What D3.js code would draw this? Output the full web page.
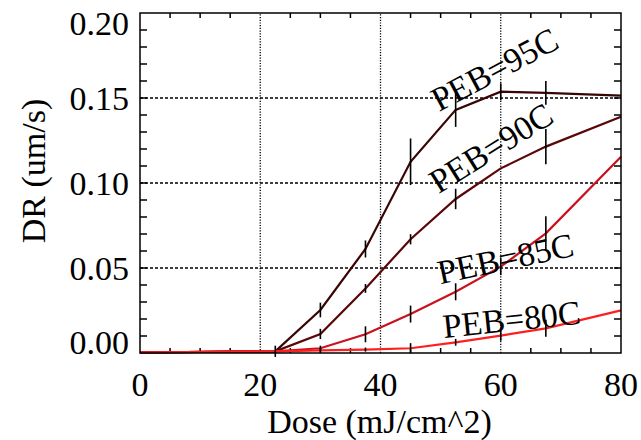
<!DOCTYPE html>
<html>
<head>
<meta charset="utf-8">
<script src="https://cdn.jsdelivr.net/npm/d3@7"></script>
<style>
  body { margin: 0; background: #fff; }
  svg text { font-family: "Liberation Serif", "Times New Roman", serif; fill: #000; }
</style>
</head>
<body>
<svg width="641" height="440"></svg>
<script>
// dose points (mJ/cm^2) and dissolution rate (um/s) per PEB temperature
var doses = [0, 22.5, 30, 37.5, 45, 52.5, 60, 67.5, 80]
var dr95 = [0.0003, 0.001, 0.0253, 0.0612, 0.1125, 0.143, 0.1537, 0.153, 0.1514]
var dr90 = [0.0003, 0.001, 0.0112, 0.038, 0.0669, 0.0906, 0.1086, 0.1214, 0.139]
var dr85 = [0.0003, 0.001, 0.0028, 0.011, 0.0229, 0.036, 0.0508, 0.0704, 0.1155]
var dr80 = [0.0003, 0.001, 0.0015, 0.002, 0.0028, 0.0063, 0.0102, 0.0145, 0.0251]
// error bar half heights (null = no bar)
var err95 = [null, 0.0033, 0.0043, 0.005, 0.0137, 0.010, 0.005, 0.007, null]
var err90 = [null, null, 0.003, 0.0026, 0.003, 0.006, null, 0.0103, null]
var err85 = [null, null, 0.0015, 0.0047, 0.005, 0.005, 0.005, 0.01, null]
var err80 = [null, null, 0.0013, 0.0012, 0.003, 0.002, 0.003, 0.005, null]
var seriesNames = ["PEB=95C", "PEB=90C", "PEB=85C", "PEB=80C"]
var xTicks = [0, 20, 40, 60, 80]
var yTicks = [0, 0.05, 0.10, 0.15, 0.20]

var colors = ["#380404", "#5a0707", "#c8121e", "#ff1e1e"]
// label anchor (data coords) and rotation
var labelPos = [[59.0, 0.1668, -28], [58.4, 0.1206, -32], [60.8, 0.0555, -12], [61.8, 0.0198, -6]]

var svg = d3.select("svg")
var x = d3.scaleLinear().domain([0, 80]).range([140, 621])
var y = d3.scaleLinear().domain([0, 0.2]).range([353, 13])
var fs = 34

// grid lines
svg.append("g").selectAll("line").data([20, 40, 60]).enter().append("line")
  .attr("x1", d => x(d)).attr("x2", d => x(d)).attr("y1", y(0)).attr("y2", y(0.2))
  .attr("stroke", "#000").attr("stroke-width", 1.3).attr("stroke-dasharray", "1.2,1.5")
svg.append("g").selectAll("line").data([0.05, 0.10, 0.15]).enter().append("line")
  .attr("y1", d => y(d)).attr("y2", d => y(d)).attr("x1", x(0)).attr("x2", x(80))
  .attr("stroke", "#000").attr("stroke-width", 1.3).attr("stroke-dasharray", "3,2")

// minor ticks
var xMinor = d3.range(5, 80, 5).filter(d => d % 20 != 0)
var yMinor = d3.range(1, 20).map(d => d / 100)
var ticks = svg.append("g").attr("stroke", "#000").attr("stroke-width", 1.5)
xMinor.forEach(function(d) {
  ticks.append("line").attr("x1", x(d)).attr("x2", x(d)).attr("y1", y(0)).attr("y2", y(0) - 5)
  ticks.append("line").attr("x1", x(d)).attr("x2", x(d)).attr("y1", y(0.2)).attr("y2", y(0.2) + 5)
})
yMinor.forEach(function(d) {
  ticks.append("line").attr("y1", y(d)).attr("y2", y(d)).attr("x1", x(0)).attr("x2", x(0) + 7)
  ticks.append("line").attr("y1", y(d)).attr("y2", y(d)).attr("x1", x(80)).attr("x2", x(80) - 7)
})

// lines
var allDR = [dr95, dr90, dr85, dr80]
var allErr = [err95, err90, err85, err80]
var line = d3.line().x(d => x(d[0])).y(d => y(d[1]))
allDR.forEach(function(vals, i) {
  svg.append("path")
    .datum(doses.map((d, j) => [d, vals[j]]))
    .attr("d", line).attr("fill", "none")
    .attr("stroke", colors[i]).attr("stroke-width", 2.2)
})

// error bars
allErr.forEach(function(errs, i) {
  var pts = doses.map((d, j) => ({d: d, v: allDR[i][j], e: errs[j]})).filter(p => p.e != null)
  svg.append("g").selectAll("line").data(pts).enter().append("line")
    .attr("x1", p => x(p.d)).attr("x2", p => x(p.d))
    .attr("y1", p => y(p.v - p.e)).attr("y2", p => y(p.v + p.e))
    .attr("stroke", "#000").attr("stroke-width", 1.6)
})

// labels
seriesNames.forEach(function(name, i) {
  var p = labelPos[i]
  svg.append("text")
    .attr("transform", "translate(" + x(p[0]) + "," + y(p[1]) + ") rotate(" + p[2] + ")")
    .attr("text-anchor", "middle").attr("dominant-baseline", "central")
    .attr("font-size", fs).text(name)
})

// frame
svg.append("rect").attr("x", x(0)).attr("y", y(0.2))
  .attr("width", x(80) - x(0)).attr("height", y(0) - y(0.2))
  .attr("fill", "none").attr("stroke", "#000").attr("stroke-width", 1.5)

// tick labels
svg.append("g").selectAll("text").data(xTicks).enter().append("text")
  .attr("x", d => x(d)).attr("y", 396).attr("text-anchor", "middle")
  .attr("font-size", fs).text(d => d)
var yShift = {0: -11, 0.2: 10}
svg.append("g").selectAll("text").data(yTicks).enter().append("text")
  .attr("x", 129).attr("y", d => y(d) + (yShift[d] || 0))
  .attr("text-anchor", "end").attr("dominant-baseline", "central")
  .attr("font-size", fs).text(d => d3.format(".2f")(d))

// axis titles
svg.append("text").attr("x", x(40) - 1).attr("y", 433).attr("text-anchor", "middle")
  .attr("font-size", fs).text("Dose (mJ/cm^2)")
svg.append("text").attr("transform", "translate(33,171) rotate(-90)")
  .attr("text-anchor", "middle").attr("dominant-baseline", "central")
  .attr("font-size", fs).text("DR (um/s)")
</script>
</body>
</html>
